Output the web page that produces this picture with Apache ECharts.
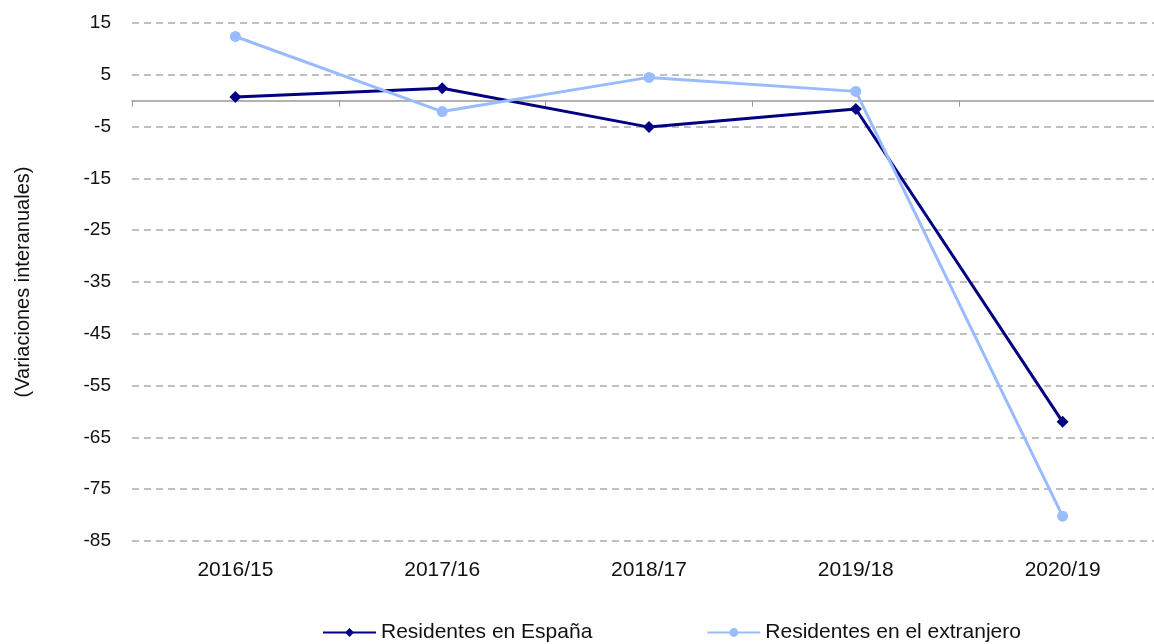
<!DOCTYPE html>
<html>
<head>
<meta charset="utf-8">
<script src="https://cdn.jsdelivr.net/npm/echarts@6/dist/echarts.min.js"></script>
<style>
  html, body { margin: 0; padding: 0; background: #fff; }
  #chart { width: 1154px; height: 644px; }
</style>
</head>
<body>
<div id="chart"></div>
<script>
  // datos
  var periodos = ['2016/15', '2017/16', '2018/17', '2019/18', '2020/19'];
  var residentesEspana = [0.7, 2.4, -5.1, -1.6, -62.0];
  var residentesExtranjero = [12.4, -2.1, 4.5, 1.8, -80.2];
  var nombres = ['Residentes en España', 'Residentes en el extranjero'];

  var fuente = 'Liberation Sans, Arial, Helvetica, sans-serif';
  var chart = echarts.init(document.getElementById('chart'));

  chart.setOption({
    animation: false,
    grid: { left: 132, top: 23, height: 518, width: 1034, outerBoundsMode: 'none' },
    legend: {
      data: nombres,
      left: 322,
      top: 622,
      padding: 0,
      itemWidth: 53,
      itemHeight: 11,
      itemGap: 114,
      textStyle: { fontFamily: fuente, fontSize: 21, color: '#111' }
    },
    xAxis: [
      {
        type: 'category',
        data: periodos,
        position: 'bottom',
        axisLine: { show: false, onZero: false },
        axisTick: { show: false },
        axisLabel: { margin: 19, fontFamily: fuente, fontSize: 21, color: '#111' }
      },
      {
        type: 'category',
        data: periodos,
        position: 'bottom',
        axisLine: { show: true, onZero: true, lineStyle: { color: '#999', width: 1.5 } },
        axisTick: { show: true, length: 6, lineStyle: { color: '#999' } },
        axisLabel: { show: false }
      }
    ],
    yAxis: {
      type: 'value',
      min: -85,
      max: 15,
      interval: 10,
      name: '(Variaciones interanuales)',
      nameLocation: 'middle',
      nameGap: 99,
      nameTextStyle: { fontFamily: fuente, fontSize: 20, color: '#111' },
      axisLine: { show: false },
      axisTick: { show: false },
      axisLabel: { margin: 21, fontFamily: fuente, fontSize: 19, color: '#111' },
      splitLine: { lineStyle: { color: '#c0c0c0', width: 2, type: [7, 5] } }
    },
    series: [
      {
        name: nombres[0],
        type: 'line',
        data: residentesEspana,
        symbol: 'diamond',
        symbolSize: 12,
        itemStyle: { color: '#000080' },
        lineStyle: { color: '#000080', width: 3 }
      },
      {
        name: nombres[1],
        type: 'line',
        data: residentesExtranjero,
        symbol: 'circle',
        symbolSize: 11,
        itemStyle: { color: '#99bbff' },
        lineStyle: { color: '#99bbff', width: 3 }
      }
    ]
  });
</script>
</body>
</html>
